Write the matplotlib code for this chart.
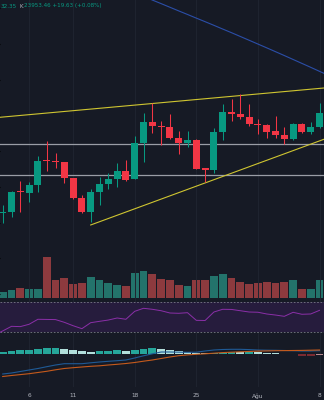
import matplotlib
matplotlib.use('Agg')
import matplotlib.pyplot as plt
import numpy as np

# ---------------- data ----------------
date_labels = ['6', '11', '18', '25', 'Ağu', '8']
date_idx = [3, 8, 15, 22, 29, 36]

opens = [23813.5, 23814.4, 23843.6, 23841.0, 23853.1, 23887.0, 23885.6, 23885.3, 23862.0, 23834.0,
         23814.4, 23842.9, 23853.6, 23861.1, 23872.3, 23860.6, 23911.0, 23940.9, 23935.3, 23933.4,
         23918.0, 23911.0, 23915.7, 23875.8, 23873.7, 23926.9, 23954.9, 23952.5, 23948.3, 23938.5,
         23936.7, 23928.7, 23922.7, 23916.6, 23938.5, 23927.1, 23933.8]
highs = [23824.7, 23844.3, 23858.7, 23857.3, 23893.3, 23914.7, 23897.0, 23885.3, 23862.0, 23838.2,
         23847.5, 23863.4, 23869.0, 23883.9, 23887.7, 23921.3, 23953.0, 23967.0, 23942.3, 23952.1,
         23928.7, 23928.7, 23917.1, 23876.0, 23932.0, 23966.1, 23973.1, 23980.1, 23966.1, 23944.6,
         23938.1, 23949.3, 23934.3, 23939.9, 23939.9, 23940.6, 23967.2]
lows = [23799.5, 23807.9, 23814.9, 23829.3, 23843.3, 23872.7, 23876.0, 23855.9, 23832.6, 23813.9,
        23801.3, 23824.7, 23847.5, 23850.3, 23858.3, 23860.6, 23885.3, 23925.9, 23908.7, 23916.6,
        23895.6, 23905.4, 23875.1, 23856.4, 23869.0, 23915.7, 23941.8, 23944.6, 23935.7, 23924.1,
        23918.0, 23918.9, 23910.1, 23915.7, 23925.9, 23924.1, 23932.35]
closes = [23814.9, 23842.9, 23842.2, 23853.1, 23886.3, 23885.6, 23884.9, 23862.0, 23834.0, 23814.4,
          23842.9, 23853.6, 23861.1, 23872.3, 23859.7, 23911.0, 23940.9, 23935.3, 23933.4, 23918.0,
          23911.0, 23915.2, 23875.5, 23874.1, 23927.3, 23954.9, 23952.5, 23948.3, 23937.6, 23936.7,
          23927.3, 23922.7, 23916.6, 23938.5, 23927.3, 23933.83, 23953.46]
volumes = [56, 83, 103, 86, 93, 410, 183, 196, 143, 146, 213, 183, 150, 130, 123, 246, 270, 243, 190,
           176, 130, 120, 183, 183, 220, 240, 203, 156, 136, 150, 163, 153, 160, 180, 90, 93, 176]

ma_idx = [15, 16, 17, 18, 19, 20, 21, 22, 23, 24, 25, 26, 27, 28, 29, 30, 31, 32, 33, 34, 35, 36, 37]
ma_vals = [24122.5, 24117.0, 24111.6, 24106.6, 24101.5, 24096.4, 24091.4, 24086.3, 24081.3, 24076.2,
           24071.0, 24065.9, 24060.6, 24055.3, 24050.0, 24044.7, 24039.3, 24033.9, 24028.4, 24022.9,
           24017.4, 24011.8, 24006.2]

hlines = [23909.6, 23866.2]
upper_trend = [(0, 23947.8), (36, 23987.9)]
lower_trend = [(10, 23796.7), (36, 23914.4)]

rsi_prev = 26.0
rsi = [31.8, 37.9, 37.5, 40.6, 47.2, 47.0, 46.8, 43.2, 38.7, 34.8, 42.7, 44.5, 46.2, 48.9, 47.2, 57.7,
       61.7, 60.4, 58.5, 55.5, 55.1, 55.9, 45.8, 45.6, 56.8, 60.4, 60.2, 58.5, 56.8, 56.5, 54.2, 52.8,
       51.1, 56.4, 53.8, 54.2, 59.0]

macd = [-20.0, -19.0, -17.5, -16.0, -14.5, -12.7, -11.0, -9.7, -9.7, -9.7, -8.8, -8.0, -7.3, -6.7,
        -6.0, -4.0, -1.8, 0.2, 2.0, 2.0, 1.8, 1.7, 1.8, 3.0, 4.0, 4.5, 4.7, 4.7, 4.4, 4.0, 3.8, 3.7,
        3.5, 3.3, 3.0, 3.0, 3.3]
signal = [-22.5, -21.5, -20.6, -19.7, -18.5, -17.3, -15.8, -14.5, -13.7, -13.0, -12.3, -11.8, -11.0,
          -10.3, -9.5, -8.5, -7.2, -6.0, -4.5, -3.0, -1.7, -0.9, -0.3, 0.2, 0.8, 1.4, 1.8, 2.2, 2.5,
          2.9, 3.1, 3.3, 3.4, 3.5, 3.6, 3.8, 4.0]
hist = [2.0, 2.7, 3.7, 3.8, 4.7, 5.7, 5.8, 5.3, 4.3, 3.0, 2.3, 3.0, 3.1, 3.7, 2.7, 4.0, 5.3, 5.7, 5.3,
        4.3, 3.3, 2.0, 1.5, 0.8, 1.0, 1.5, 2.0, 1.8, 2.4, 1.7, 1.0, 0.6, 0.3, 0.2, -1.7, -1.8, -0.6]

# ---------------- style ----------------
BG = '#161a25'
GRID = '#1f2430'
UP = '#089981'
DOWN = '#f23645'
VUP = '#23736b'
VDOWN = '#8d3a3e'
TXT = '#b2b5be'

W, H = 324, 400
fig = plt.figure(figsize=(W / 100, H / 100), dpi=100, facecolor=BG)

def add_ax(top_px, bottom_px):
    return fig.add_axes([0, 1 - bottom_px / H, 1, (bottom_px - top_px) / H], facecolor=BG)

ax = add_ax(0, 298)
axr = add_ax(298, 337)
axm = add_ax(337, 387)

n = len(closes)
idx = np.arange(n)
xlim = (-0.307, 36.51)

for a in (ax, axr, axm):
    a.set_xlim(*xlim)
    for s in a.spines.values():
        s.set_visible(False)
    a.tick_params(left=False, labelleft=False, bottom=False, labelbottom=False)
    for d in date_idx:
        a.axvline(d, color=GRID, lw=0.7, zorder=0)

# ---- main pane ----
ax.set_ylim(23694.46, 24111.66)
axv = ax.twinx()
axv.set_ylim(0, 2980)
axv.set_xlim(*xlim)
axv.axis('off')
vcols = [VUP if c >= o else VDOWN for o, c in zip(opens, closes)]
axv.bar(idx, volumes, width=0.9, color=vcols, zorder=1)
ax.set_zorder(axv.get_zorder() + 1)
ax.patch.set_visible(False)
fig.patch.set_facecolor(BG)

for y in hlines:
    ax.axhline(y, color='#9a9da6', lw=0.9, zorder=2)

(x1, y1), (x2, y2) = upper_trend
ax.axline((x1, y1), (x2, y2), color='#cfc531', lw=0.8, zorder=2)
(x1, y1), (x2, y2) = lower_trend
slope = (y2 - y1) / (x2 - x1)
ax.plot([x1, 40], [y1, y1 + slope * (40 - x1)], color='#cfc531', lw=0.8, zorder=2)

ax.plot(ma_idx, ma_vals, color='#2b4ea8', lw=0.8, zorder=2)

for i in range(n):
    o, h, l, c = opens[i], highs[i], lows[i], closes[i]
    col = UP if c >= o else DOWN
    ax.vlines(i, l, h, color=col, lw=0.75, zorder=3)
    bot = min(o, c)
    ht = max(abs(c - o), 1.6)
    ax.bar(i, ht, bottom=bot, width=0.78, color=col, zorder=4, linewidth=0)

fig.text(0.5 / W, 1 - 6 / H, '32.35', color=UP, fontsize=4.1, va='center', ha='left')
fig.text(19.5 / W, 1 - 6 / H, 'K', color=TXT, fontsize=4.1, va='center', ha='left')
fig.text(23.5 / W, 1 - 6 / H, '23953.46 +19.63 (+0.08%)', color=UP, fontsize=4.1, va='center', ha='left')

# ---- RSI pane ----
axr.set_ylim(23.8, 75.3)
axr.axhspan(30, 70, color='#261c3d', lw=0, zorder=0)
for lvl in (30, 70):
    axr.axhline(lvl, color='#787b86', lw=0.6, ls=(0, (2, 2)), zorder=1)
axr.plot(np.concatenate([[-1], idx]), [rsi_prev] + rsi, color='#8b2fa8', lw=0.7, zorder=2)

# ---- MACD pane ----
axm.set_ylim(-33, 17)
hcols = []
for i, v in enumerate(hist):
    prev = hist[i - 1] if i > 0 else 0
    if v >= 0:
        hcols.append('#26a69a' if v >= prev else '#b2dfdb')
    else:
        hcols.append('#7a2a32' if v < prev else '#b98a90')
axm.bar(idx, hist, width=0.9, color=hcols, zorder=1)
axm.plot(idx, macd, color='#1f5a96', lw=0.8, zorder=2)
axm.plot(idx, signal, color='#c55a1c', lw=0.8, zorder=2)

axm.set_xticks(date_idx)
axm.set_xticklabels(date_labels)
axm.tick_params(bottom=False, labelbottom=True, labelsize=4.2, labelcolor=TXT, pad=4.5, length=0)

fig.savefig('out.png', dpi=100, facecolor=BG)
